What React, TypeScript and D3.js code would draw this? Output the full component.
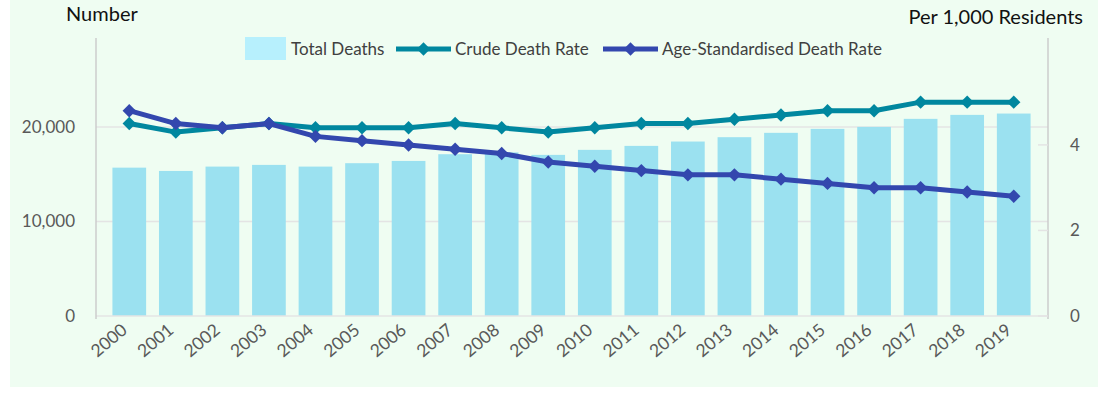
import * as d3 from "d3";

const years = [
  "2000", "2001", "2002", "2003", "2004", "2005", "2006", "2007", "2008", "2009",
  "2010", "2011", "2012", "2013", "2014", "2015", "2016", "2017", "2018", "2019",
];
const totalDeaths = [
  15690, 15340, 15800, 15980, 15800, 16160, 16400, 17110, 17300, 17040,
  17570, 17990, 18450, 18910, 19370, 19790, 20000, 20850, 21270, 21410,
];
const crudeRate = [
  4.5, 4.3, 4.4, 4.5, 4.4, 4.4, 4.4, 4.5, 4.4, 4.3,
  4.4, 4.5, 4.5, 4.6, 4.7, 4.8, 4.8, 5.0, 5.0, 5.0,
];
const ageStdRate = [
  4.8, 4.5, 4.4, 4.5, 4.2, 4.1, 4.0, 3.9, 3.8, 3.6,
  3.5, 3.4, 3.3, 3.3, 3.2, 3.1, 3.0, 3.0, 2.9, 2.8,
];
const leftTicks = [0, 10000, 20000];
const rightTicks = [0, 2, 4];

const W = 1110;
const H = 395;
const PLOT = { left: 96, right: 1048, top: 38, bottom: 316 };
const FONT = "Lato, 'Open Sans', sans-serif";
const BAR = "#9be1f0";
const CRUDE = "#00879f";
const ASDR = "#3347ae";
const GRID = "#e4e4e4";
const AXIS = "#cccccc";
const LABEL = "#595959";

export default function App() {
  const x = d3
    .scaleBand<string>()
    .domain(years)
    .range([106, 1037])
    .paddingInner(0.276)
    .paddingOuter(0.138);
  const yLeft = d3.scaleLinear().domain([0, 29400]).range([PLOT.bottom, PLOT.top]);
  const yRight = d3.scaleLinear().domain([0, 6.5]).range([PLOT.bottom, PLOT.top]);

  const cx = (i: number) => (x(years[i]) ?? 0) + x.bandwidth() / 2;
  const line = d3
    .line<number>()
    .x((_, i) => cx(i))
    .y((d) => yRight(d));
  // Excel-style diamond: a square turned 45 degrees
  const diamond = d3.symbol(d3.symbolSquare, 90)() ?? "";

  const series = [
    { name: "Crude Death Rate", values: crudeRate, color: CRUDE },
    { name: "Age-Standardised Death Rate", values: ageStdRate, color: ASDR },
  ];

  return (
    <svg
      width={W}
      height={H}
      style={{ position: "absolute", left: 0, top: 0 }}
      fontFamily={FONT}
    >
      <rect x={10} y={0} width={1088} height={387} fill="#effdf2" />

      {/* gridlines */}
      {leftTicks.slice(1).map((t) => (
        <line key={t} x1={PLOT.left} x2={PLOT.right} y1={yLeft(t)} y2={yLeft(t)} stroke={GRID} strokeWidth={1.5} />
      ))}

      {/* bars */}
      {totalDeaths.map((d, i) => (
        <rect
          key={years[i]}
          x={x(years[i])}
          y={yLeft(d)}
          width={x.bandwidth()}
          height={yLeft(0) - yLeft(d)}
          fill={BAR}
        />
      ))}

      {/* axes */}
      <line x1={PLOT.left} x2={PLOT.right} y1={PLOT.bottom} y2={PLOT.bottom} stroke={GRID} strokeWidth={1.5} />
      <line x1={PLOT.left} x2={PLOT.left} y1={PLOT.top} y2={PLOT.bottom + 3} stroke={AXIS} strokeWidth={1.5} />
      <line x1={PLOT.right} x2={PLOT.right} y1={PLOT.top} y2={PLOT.bottom + 3} stroke={AXIS} strokeWidth={1.5} />
      {rightTicks.map((t) => (
        <line key={t} x1={PLOT.right - 10} x2={PLOT.right} y1={yRight(t)} y2={yRight(t)} stroke={GRID} strokeWidth={1.5} />
      ))}

      {/* lines */}
      {series.map((s) => (
        <g key={s.name}>
          <path d={line(s.values) ?? ""} fill="none" stroke={s.color} strokeWidth={5} strokeLinejoin="round" />
          {s.values.map((v, i) => (
            <path key={i} d={diamond} transform={`translate(${cx(i)},${yRight(v)}) rotate(45)`} fill={s.color} />
          ))}
        </g>
      ))}

      {/* tick labels */}
      {leftTicks.map((t) => (
        <text key={t} x={75} y={yLeft(t)} dy="0.35em" textAnchor="end" fontSize={17} fill={LABEL}>
          {d3.format(",")(t)}
        </text>
      ))}
      {rightTicks.map((t) => (
        <text key={t} x={1070} y={yRight(t)} dy="0.35em" textAnchor="start" fontSize={17} fill={LABEL}>
          {t}
        </text>
      ))}
      {years.map((yr, i) => (
        <text
          key={yr}
          transform={`translate(${cx(i) - 1},${PLOT.bottom + 16}) rotate(-40)`}
          textAnchor="end"
          fontSize={17.5}
          fill={LABEL}
        >
          {yr}
        </text>
      ))}

      {/* titles */}
      <text x={66} y={21} fontSize={20} fill="#111">Number</text>
      <text x={1083} y={24} fontSize={20} fill="#111" textAnchor="end">Per 1,000 Residents</text>

      {/* legend */}
      <rect x={245} y={37} width={41} height={23} fill="#b7f0fd" />
      <text x={291} y={55} fontSize={17} fill="#404040">Total Deaths</text>
      {series.map((s, k) => {
        const lx = k === 0 ? 396 : 603;
        return (
          <g key={s.name}>
            <line x1={lx} x2={lx + 55} y1={49} y2={49} stroke={s.color} strokeWidth={5} />
            <path d={diamond} transform={`translate(${lx + 27.5},49) rotate(45)`} fill={s.color} />
            <text x={lx + 59} y={55} fontSize={17} fill="#404040">{s.name}</text>
          </g>
        );
      })}
    </svg>
  );
}
